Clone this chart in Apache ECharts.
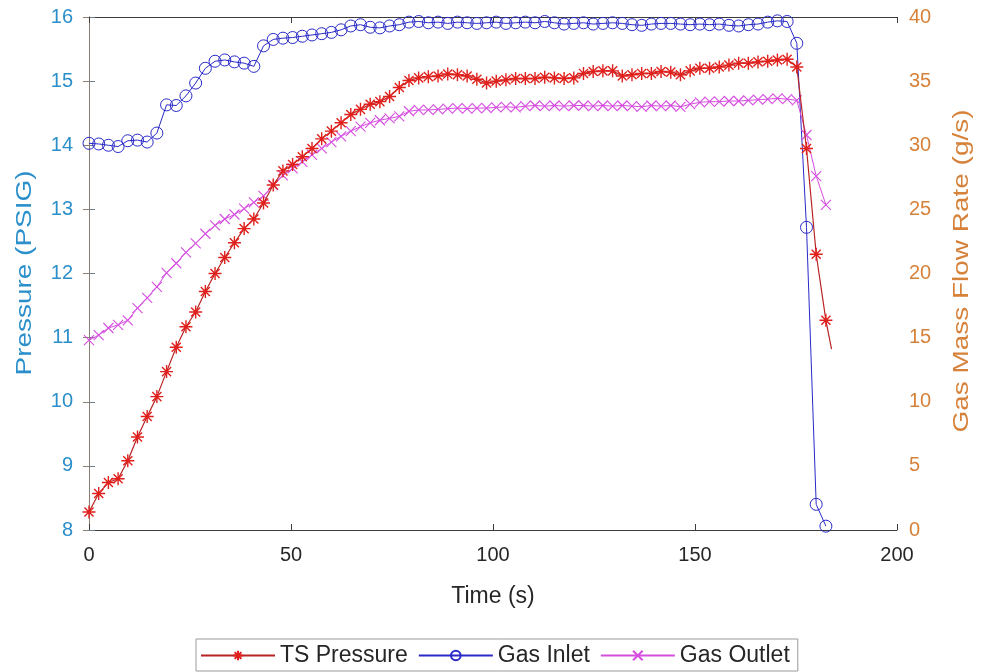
<!DOCTYPE html>
<html>
<head>
<meta charset="utf-8">
<script src="https://cdn.jsdelivr.net/npm/echarts@6/dist/echarts.min.js"></script>
<style>
html,body{margin:0;padding:0;background:#fff;}
#chart{width:983px;height:672px;}
</style>
</head>
<body>
<div id="chart"></div>
<script>
// Time (s)
const time = [0, 2.4, 4.8, 7.2, 9.6, 12, 14.4, 16.8, 19.2, 21.6, 24, 26.4, 28.8, 31.2, 33.6, 36, 38.4, 40.8, 43.2, 45.6,
  48, 50.4, 52.8, 55.2, 57.6, 60, 62.4, 64.8, 67.2, 69.6, 72, 74.4, 76.8, 79.2, 81.6, 84, 86.4, 88.8, 91.2, 93.6,
  96, 98.4, 100.8, 103.2, 105.6, 108, 110.4, 112.8, 115.2, 117.6, 120, 122.4, 124.8, 127.2, 129.6, 132, 134.4, 136.8, 139.2, 141.6,
  144, 146.4, 148.8, 151.2, 153.6, 156, 158.4, 160.8, 163.2, 165.6, 168, 170.4, 172.8, 175.2, 177.6, 180, 182.4];
// TS Pressure (PSIG) - left axis
const tsPressure = [8.28, 8.57, 8.74, 8.80, 9.08, 9.45, 9.77, 10.08, 10.47, 10.85, 11.17, 11.40, 11.72, 12.00, 12.25, 12.48, 12.70, 12.85, 13.10, 13.38,
  13.60, 13.70, 13.82, 13.95, 14.10, 14.22, 14.35, 14.48, 14.56, 14.64, 14.68, 14.76, 14.90, 15.01, 15.05, 15.07, 15.08, 15.11, 15.10, 15.08,
  15.03, 14.97, 15.00, 15.02, 15.04, 15.04, 15.04, 15.06, 15.05, 15.04, 15.05, 15.12, 15.15, 15.16, 15.16, 15.08, 15.10, 15.12, 15.12, 15.15,
  15.14, 15.10, 15.16, 15.20, 15.20, 15.22, 15.25, 15.28, 15.28, 15.30, 15.31, 15.33, 15.34, 15.22, 13.95, 12.30, 11.27];
const tsTailTime = [183.8];
const tsTailValue = [10.82];
// Gas Inlet (g/s) - right axis
const gasInlet = [30.15, 30.1, 30.0, 29.9, 30.35, 30.4, 30.25, 30.95, 33.15, 33.1, 33.85, 34.85, 36.0, 36.55, 36.65, 36.5, 36.4, 36.15, 37.75, 38.25,
  38.35, 38.4, 38.5, 38.6, 38.7, 38.8, 39.0, 39.3, 39.4, 39.2, 39.15, 39.3, 39.4, 39.6, 39.65, 39.55, 39.6, 39.5, 39.6, 39.55,
  39.5, 39.55, 39.6, 39.5, 39.55, 39.6, 39.55, 39.65, 39.55, 39.45, 39.5, 39.55, 39.45, 39.5, 39.55, 39.5, 39.4, 39.35, 39.45, 39.5,
  39.5, 39.45, 39.4, 39.45, 39.4, 39.45, 39.35, 39.3, 39.4, 39.45, 39.6, 39.7, 39.65, 37.95, 23.6, 2.0, 0.3];
// Gas Outlet (g/s) - right axis
const gasOutlet = [14.8, 15.2, 15.75, 16.0, 16.35, 17.3, 18.1, 18.95, 20.05, 20.8, 21.65, 22.35, 23.1, 23.75, 24.25, 24.6, 25.05, 25.55, 26.05, 26.9,
  27.65, 28.2, 28.7, 29.25, 29.75, 30.25, 30.7, 31.1, 31.45, 31.75, 31.95, 32.1, 32.25, 32.65, 32.75, 32.75, 32.8, 32.85, 32.9, 32.85,
  32.9, 32.9, 32.95, 33.0, 32.95, 33.05, 33.1, 33.05, 33.1, 33.05, 33.1, 33.1, 33.05, 33.1, 33.05, 33.1, 33.05, 33.0, 33.1, 33.05,
  33.1, 33.0, 33.2, 33.35, 33.4, 33.4, 33.45, 33.45, 33.5, 33.55, 33.6, 33.65, 33.6, 33.5, 30.8, 27.6, 25.35];

const xTicks = {min: 0, max: 200, interval: 50};
const leftTicks = {min: 8, max: 16, interval: 1};
const rightTicks = {min: 0, max: 40, interval: 5};

const FONT = '"Liberation Sans", Arial, sans-serif';
const RED = '#e0201c', BLUE = '#2a2ac8', MAG = '#d64ee0';
const LEFTC = '#2a8fca', RIGHTC = '#d6823a';

const starPath = 'path://M0,5L10,5M5,0L5,10M1.5,1.5L8.5,8.5M8.5,1.5L1.5,8.5';
const xPath = 'path://M0,0L10,10M10,0L0,10';

const tsData = time.map((t, i) => [t, tsPressure[i]]);
tsTailTime.forEach((t, i) => tsData.push({value: [t, tsTailValue[i]], symbol: 'none'}));

const chart = echarts.init(document.getElementById('chart'), null, {renderer: 'canvas'});
chart.setOption({
  animation: false,
  backgroundColor: '#fff',
  grid: {left: 89, right: 86, top: 17, bottom: 142, containLabel: false},
  legend: {
    bottom: 1, left: 196,
    borderColor: '#9a9a9a', borderWidth: 1,
    padding: [5, 8, 4, 4],
    itemWidth: 74, itemHeight: 12, itemGap: 10,
    textStyle: {fontFamily: FONT, fontSize: 23, color: '#262626'},
    data: ['TS Pressure', 'Gas Inlet', 'Gas Outlet']
  },
  graphic: [{
    type: 'text', x: 25, y: 273, rotation: Math.PI / 2, scaleX: 1.27,
    style: {text: 'Pressure (PSIG)', font: '22px "Liberation Sans", Arial, sans-serif', fill: LEFTC, align: 'center', verticalAlign: 'middle'}
  }, {
    type: 'text', x: 962, y: 271, rotation: Math.PI / 2, scaleX: 1.27,
    style: {text: 'Gas Mass Flow Rate (g/s)', font: '22px "Liberation Sans", Arial, sans-serif', fill: RIGHTC, align: 'center', verticalAlign: 'middle'}
  }],
  xAxis: [{
    type: 'value', position: 'bottom', min: xTicks.min, max: xTicks.max, interval: xTicks.interval,
    name: 'Time (s)', nameLocation: 'middle', nameGap: 55,
    nameTextStyle: {fontFamily: FONT, fontSize: 23, color: '#262626'},
    axisLine: {show: true, lineStyle: {color: '#3c3c3c', width: 1}},
    axisTick: {show: true, inside: true, length: 6, lineStyle: {color: '#3c3c3c'}},
    axisLabel: {fontFamily: FONT, fontSize: 20, color: '#262626', margin: 15},
    splitLine: {show: false}
  }, {
    type: 'value', position: 'top', min: xTicks.min, max: xTicks.max, interval: xTicks.interval,
    axisLine: {show: true, lineStyle: {color: '#3c3c3c', width: 1}},
    axisTick: {show: true, inside: true, length: 6, lineStyle: {color: '#3c3c3c'}},
    axisLabel: {show: false},
    splitLine: {show: false}
  }],
  yAxis: [{
    type: 'value', position: 'left', min: leftTicks.min, max: leftTicks.max, interval: leftTicks.interval,
    axisLine: {show: true, lineStyle: {color: '#6f7f8c', width: 1}},
    axisTick: {show: true, inside: true, length: 6, lineStyle: {color: '#6f7f8c'}},
    axisLabel: {fontFamily: FONT, fontSize: 20, color: LEFTC, margin: 16},
    splitLine: {show: false}
  }, {
    type: 'value', position: 'right', min: rightTicks.min, max: rightTicks.max, interval: rightTicks.interval,
    axisLine: {show: true, lineStyle: {color: '#8c7f72', width: 1}},
    axisTick: {show: true, inside: true, length: 6, lineStyle: {color: '#8c7f72'}},
    axisLabel: {fontFamily: FONT, fontSize: 20, color: RIGHTC, margin: 12},
    splitLine: {show: false}
  }],
  series: [{
    name: 'TS Pressure', type: 'line', xAxisIndex: 0, yAxisIndex: 0,
    data: tsData, showAllSymbol: true,
    symbol: starPath, symbolSize: 13,
    lineStyle: {color: '#b82424', width: 1.2},
    itemStyle: {color: 'rgba(0,0,0,0)', borderColor: RED, borderWidth: 1.4},
    z: 3
  }, {
    name: 'Gas Inlet', type: 'line', xAxisIndex: 0, yAxisIndex: 1,
    data: time.map((t, i) => [t, gasInlet[i]]), showAllSymbol: true,
    symbol: 'circle', symbolSize: 12,
    lineStyle: {color: BLUE, width: 1},
    itemStyle: {color: 'rgba(0,0,0,0)', borderColor: BLUE, borderWidth: 1},
    z: 2
  }, {
    name: 'Gas Outlet', type: 'line', xAxisIndex: 0, yAxisIndex: 1,
    data: time.map((t, i) => [t, gasOutlet[i]]), showAllSymbol: true,
    symbol: xPath, symbolSize: 10,
    lineStyle: {color: MAG, width: 1},
    itemStyle: {color: 'rgba(0,0,0,0)', borderColor: MAG, borderWidth: 1.1},
    z: 2
  }]
});
</script>
</body>
</html>
